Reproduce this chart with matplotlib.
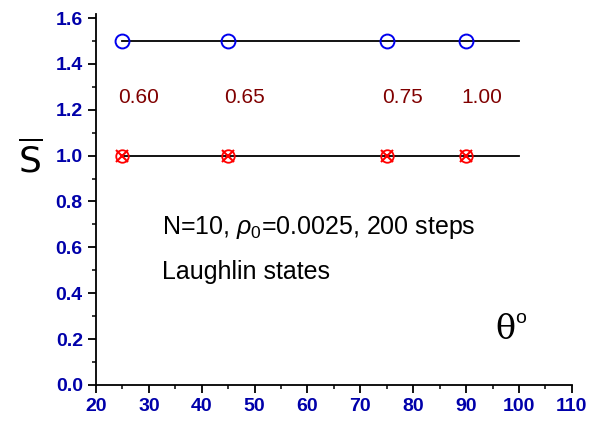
import matplotlib.pyplot as plt

plt.rcParams["font.family"] = ["Liberation Sans", "DejaVu Sans"]
plt.rcParams["mathtext.fontset"] = "custom"
plt.rcParams["mathtext.rm"] = "Liberation Sans"
plt.rcParams["mathtext.it"] = "Liberation Sans:italic"

theta = [25, 45, 75, 90]
s_upper = [1.5, 1.5, 1.5, 1.5]
s_lower = [1.0, 1.0, 1.0, 1.0]
labels = ["0.60", "0.65", "0.75", "1.00"]

fig = plt.figure(figsize=(6, 4.22), dpi=100)
ax = fig.add_axes([0.16, 0.088, 0.793, 0.88])

ax.plot([25, 100], [1.5, 1.5], color="black", lw=1.3)
ax.plot([25, 100], [1.0, 1.0], color="black", lw=1.3)
ax.plot(theta, s_upper, "o", ms=10, mfc="none", mec="#0000ee", mew=1.4)
ax.plot(theta, s_lower, "o", ms=9, mfc="none", mec="red", mew=1.3)
ax.plot(theta, s_lower, "x", ms=8, color="red", mew=1.5)
for x, t in zip(theta, labels):
    ax.text(x + 3, 1.23, t, color="#800000", fontsize=15, ha="center")

ax.text(32.5, 0.66, "N=10, $\\rho_0$=0.0025, 200 steps", fontsize=18)
ax.text(32.5, 0.46, "Laughlin states", fontsize=18)
ax.text(95.5, 0.2, "θ", fontsize=24, family="DejaVu Serif")
ax.text(99.3, 0.27, "o", fontsize=14)
fig.text(0.05, 0.62, "$\\overline{\\rm S}$", fontsize=26, ha="center", va="center",
         math_fontfamily="dejavusans")

ax.set_xlim(20, 110)
ax.set_ylim(0, 1.62)
ax.set_xticks(range(20, 111, 10))
ax.set_xticks(range(25, 111, 10), minor=True)
ax.set_yticks([0, 0.2, 0.4, 0.6, 0.8, 1.0, 1.2, 1.4, 1.6])
ax.set_yticks([0.1, 0.3, 0.5, 0.7, 0.9, 1.1, 1.3, 1.5], minor=True)
ax.yaxis.set_major_formatter(plt.FormatStrFormatter("%.1f"))
for side in ["top", "right"]:
    ax.spines[side].set_visible(False)
for side in ["left", "bottom"]:
    ax.spines[side].set_linewidth(1.3)
ax.tick_params(which="major", length=6, width=1.3, labelsize=14, labelcolor="#0000aa")
ax.tick_params(which="minor", length=3, width=1.1)
for lab in ax.get_xticklabels() + ax.get_yticklabels():
    lab.set_fontweight("bold")

fig.savefig("out.png")
